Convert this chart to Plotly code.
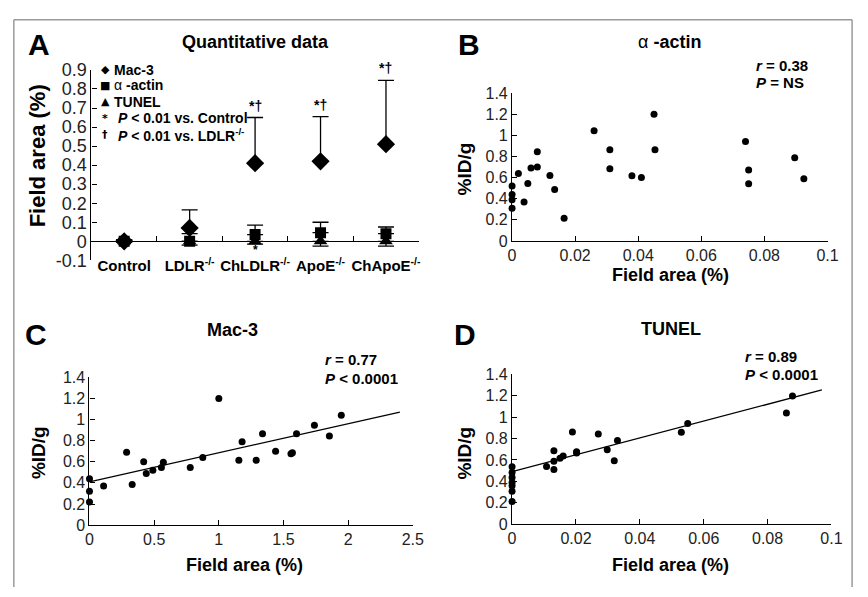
import plotly.graph_objects as go

W, H = 868, 597
FONT = "Liberation Sans, Arial, sans-serif"

# ---------------- Panel A data ----------------
categories = ["Control", "LDLR", "ChLDLR", "ApoE", "ChApoE"]
category_labels = ["<b>Control</b>", "<b>LDLR<sup>-/-</sup></b>", "<b>ChLDLR<sup>-/-</sup></b>",
                   "<b>ApoE<sup>-/-</sup></b>", "<b>ChApoE<sup>-/-</sup></b>"]
mac3_mean = [0.0, 0.07, 0.41, 0.42, 0.51]
mac3_err_up = [0.008, 0.095, 0.24, 0.235, 0.335]
actin_mean = [0.0, 0.0, 0.035, 0.045, 0.04]
actin_err_up = [0.008, 0.04, 0.05, 0.055, 0.035]
tunel_mean = [0.0, 0.0, 0.0, 0.0, 0.0]
tunel_err_down = [0.005, 0.02, 0.015, 0.025, 0.025]
sig_marks = ["", "", "*†", "*†", "*†"]
a_ticks = [-0.1, 0, 0.1, 0.2, 0.3, 0.4, 0.5, 0.6, 0.7, 0.8, 0.9]
a_ticktext = ["-0.1", "0", "0.1", "0.2", "0.3", "0.4", "0.5", "0.6", "0.7", "0.8", "0.9"]

# ---------------- Panel B: alpha-actin ----------------
actin_x = [0.0, 0.0, 0.0, 0.0, 0.002, 0.0038, 0.005, 0.006, 0.008, 0.008, 0.012, 0.0135,
           0.0165, 0.026, 0.031, 0.031, 0.038, 0.041, 0.045, 0.0453, 0.074, 0.075, 0.075,
           0.0896, 0.0925]
actin_y = [0.52, 0.44, 0.39, 0.31, 0.64, 0.37, 0.545, 0.69, 0.70, 0.846, 0.62, 0.487,
           0.216, 1.044, 0.864, 0.685, 0.618, 0.60, 1.199, 0.864, 0.943, 0.673, 0.542,
           0.788, 0.59]

# ---------------- Panel C: Mac-3 ----------------
mac_x = [0.0, 0.0, 0.0, 0.109, 0.287, 0.330, 0.419, 0.439, 0.490, 0.556, 0.571, 0.779,
         0.876, 1.0, 1.155, 1.180, 1.289, 1.338, 1.439, 1.558, 1.569, 1.601, 1.739, 1.855,
         1.947]
mac_y = [0.44, 0.32, 0.22, 0.37, 0.69, 0.385, 0.60, 0.49, 0.52, 0.545, 0.595, 0.545,
         0.64, 1.2, 0.615, 0.79, 0.615, 0.865, 0.70, 0.675, 0.685, 0.865, 0.945, 0.845,
         1.04]
mac_fit_x = [0.0, 2.4]
mac_fit_y = [0.41, 1.07]

# ---------------- Panel D: TUNEL ----------------
tunel_x = [0.0, 0.0, 0.0, 0.0, 0.0, 0.0, 0.0, 0.0108, 0.0131, 0.0131, 0.0131, 0.015,
           0.016, 0.0189, 0.0202, 0.0202, 0.027, 0.0298, 0.032, 0.033, 0.053, 0.055,
           0.0859, 0.0878]
tunel_y = [0.536, 0.482, 0.437, 0.389, 0.358, 0.307, 0.211, 0.539, 0.687, 0.587, 0.512,
           0.617, 0.636, 0.861, 0.678, 0.665, 0.843, 0.696, 0.593, 0.783, 0.858, 0.94,
           1.039, 1.199]
tunel_fit_x = [0.0, 0.097]
tunel_fit_y = [0.49, 1.255]

y_ticks = [0, 0.2, 0.4, 0.6, 0.8, 1.0, 1.2, 1.4]
y_ticktext = ["0", "0.2", "0.4", "0.6", "0.8", "1", "1.2", "1.4"]
small_x_ticks = [0, 0.02, 0.04, 0.06, 0.08, 0.1]
small_x_ticktext = ["0", "0.02", "0.04", "0.06", "0.08", "0.1"]
mac_x_ticks = [0, 0.5, 1.0, 1.5, 2.0, 2.5]
mac_x_ticktext = ["0", "0.5", "1", "1.5", "2", "2.5"]


def fx(px):
    return px / W


def fy(py):
    return 1 - py / H


fig = go.Figure()

err_style = dict(color="black", thickness=1.3, width=8)

fig.add_trace(go.Scatter(
    x=categories, y=mac3_mean, mode="markers", xaxis="x", yaxis="y",
    marker=dict(symbol="diamond", size=14, color="black"),
    error_y=dict(type="data", symmetric=False, array=mac3_err_up,
                 arrayminus=[0] * 5, **err_style),
    showlegend=False))
fig.add_trace(go.Scatter(
    x=categories, y=actin_mean, mode="markers", xaxis="x", yaxis="y",
    marker=dict(symbol="square", size=11, color="black"),
    error_y=dict(type="data", symmetric=False, array=actin_err_up,
                 arrayminus=[0] * 5, **err_style),
    showlegend=False))
fig.add_trace(go.Scatter(
    x=categories, y=tunel_mean, mode="markers", xaxis="x", yaxis="y",
    marker=dict(symbol="triangle-up", size=12, color="black"),
    error_y=dict(type="data", symmetric=False, array=[0] * 5,
                 arrayminus=tunel_err_down, **err_style),
    showlegend=False))

dot = dict(size=7, color="black")
fig.add_trace(go.Scatter(x=actin_x, y=actin_y, mode="markers", marker=dot,
                         xaxis="x2", yaxis="y2", showlegend=False, cliponaxis=False))
fig.add_trace(go.Scatter(x=mac_fit_x, y=mac_fit_y, mode="lines",
                         line=dict(color="black", width=1.3),
                         xaxis="x3", yaxis="y3", showlegend=False))
fig.add_trace(go.Scatter(x=mac_x, y=mac_y, mode="markers", marker=dot,
                         xaxis="x3", yaxis="y3", showlegend=False, cliponaxis=False))
fig.add_trace(go.Scatter(x=tunel_fit_x, y=tunel_fit_y, mode="lines",
                         line=dict(color="black", width=1.3),
                         xaxis="x4", yaxis="y4", showlegend=False))
fig.add_trace(go.Scatter(x=tunel_x, y=tunel_y, mode="markers", marker=dot,
                         xaxis="x4", yaxis="y4", showlegend=False, cliponaxis=False))

axis_common = dict(showline=True, linecolor="black", linewidth=1.2, showgrid=False,
                   zeroline=False, ticks="inside", ticklen=5, tickcolor="black",
                   tickwidth=1.2, tickangle=0)

fig.update_layout(
    xaxis=dict(domain=[fx(89), fx(422)], type="category", anchor="free",
               position=fy(239), tickson="boundaries", tickvals=categories,
               ticktext=category_labels, tickfont=dict(family=FONT, size=15, color="black"),
               ticklabelstandoff=11, range=[-0.5, 4.5], **axis_common),
    yaxis=dict(domain=[fy(259), fy(62)], range=[-0.1, 0.9], tickvals=a_ticks,
               ticktext=a_ticktext, tickfont=dict(family=FONT, size=18, color="#222"),
               anchor="x", **axis_common),
    xaxis2=dict(domain=[fx(517), fx(838)], range=[0, 0.1], tickvals=small_x_ticks,
                ticktext=small_x_ticktext, anchor="y2",
                tickfont=dict(family=FONT, size=16, color="#222"), **axis_common),
    yaxis2=dict(domain=[fy(239), fy(86)], range=[0, 1.4], tickvals=y_ticks,
                ticktext=y_ticktext, anchor="x2",
                tickfont=dict(family=FONT, size=16, color="#222"), **axis_common),
    xaxis3=dict(domain=[fx(87), fx(416)], range=[0, 2.5], tickvals=mac_x_ticks,
                ticktext=mac_x_ticktext, anchor="y3",
                tickfont=dict(family=FONT, size=16, color="#222"), **axis_common),
    yaxis3=dict(domain=[fy(533), fy(380)], range=[0, 1.4], tickvals=y_ticks,
                ticktext=y_ticktext, anchor="x3",
                tickfont=dict(family=FONT, size=16, color="#222"), **axis_common),
    xaxis4=dict(domain=[fx(517), fx(842)], range=[0, 0.1], tickvals=small_x_ticks,
                ticktext=small_x_ticktext, anchor="y4",
                tickfont=dict(family=FONT, size=16, color="#222"), **axis_common),
    yaxis4=dict(domain=[fy(532), fy(377)], range=[0, 1.4], tickvals=y_ticks,
                ticktext=y_ticktext, anchor="x4",
                tickfont=dict(family=FONT, size=16, color="#222"), **axis_common),
)

ann = []


def paper_text(text, px, py, size, xanchor="center", yanchor="middle", angle=0,
               color="black", family=FONT):
    ann.append(dict(text=text, x=fx(px), y=fy(py), xref="paper", yref="paper",
                    xanchor=xanchor, yanchor=yanchor, showarrow=False, textangle=angle,
                    font=dict(family=family, size=size, color=color)))


# panel letters
paper_text("<b>A</b>", 36, 36, 30)
paper_text("<b>B</b>", 473, 36, 30)
paper_text("<b>C</b>", 33, 336, 30)
paper_text("<b>D</b>", 469, 336, 30)

# titles
paper_text("<b>Quantitative data</b>", 256, 33, 18)
paper_text("α <b>-actin</b>", 677, 33, 18)
paper_text("<b>Mac-3</b>", 233, 331, 18)
paper_text("<b>TUNEL</b>", 679, 330, 18)

# axis titles
paper_text("<b>Field area (%)</b>", 35, 151, 22, angle=-90)
paper_text("<b>%ID/g</b>", 469, 164, 19, angle=-90)
paper_text("<b>Field area (%)</b>", 678, 274, 18)
paper_text("<b>%ID/g</b>", 35, 458, 19, angle=-90)
paper_text("<b>Field area (%)</b>", 245, 574, 18)
paper_text("<b>%ID/g</b>", 469, 458, 19, angle=-90)
paper_text("<b>Field area (%)</b>", 678, 574, 18)

# statistics
paper_text("<b><i>r</i> = 0.38</b>", 763, 57, 15, xanchor="left")
paper_text("<b><i>P</i> = NS</b>", 763, 75, 15, xanchor="left")
paper_text("<b><i>r</i> = 0.77</b>", 325, 362, 15, xanchor="left")
paper_text("<b><i>P</i> &lt; 0.0001</b>", 325, 381, 15, xanchor="left")
paper_text("<b><i>r</i> = 0.89</b>", 752, 358, 15, xanchor="left")
paper_text("<b><i>P</i> &lt; 0.0001</b>", 752, 377, 15, xanchor="left")

# legend of panel A
legend_rows = [("◆", "<b>Mac-3</b>", 62, 110),
               ("■", "α <b>-actin</b>", 78, 110),
               ("▲", "<b>TUNEL</b>", 95, 110),
               ("*", "<b><i>P</i> &lt; 0.01 vs. Control</b>", 112, 114),
               ("†", "<b><i>P</i> &lt; 0.01 vs. LDLR<sup>-/-</sup></b>", 129, 114)]
for glyph, label, py, tx in legend_rows:
    paper_text("<b>" + glyph + "</b>", 103, py, 11, family="DejaVu Sans")
    paper_text(label, tx, py, 14, xanchor="left")

# significance marks above Mac-3 error caps
for c, m, e, s in zip(categories, mac3_mean, mac3_err_up, sig_marks):
    if s:
        ann.append(dict(text="<b>" + s + "</b>", x=c, y=m + e, xref="x", yref="y",
                        yanchor="bottom", yshift=2, showarrow=False,
                        font=dict(family=FONT, size=14, color="black")))
ann.append(dict(text="<b>*</b>", x="ChLDLR", y=-0.045, xref="x", yref="y",
                showarrow=False, font=dict(family=FONT, size=12, color="black")))

shapes = []
frame = dict(type="line", xref="paper", yref="paper",
             line=dict(color="#9a9a9a", width=1.5))
shapes.append(dict(frame, x0=fx(10), x1=fx(863), y0=fy(10), y1=fy(10)))
shapes.append(dict(frame, x0=fx(10), x1=fx(10), y0=fy(10), y1=0))
shapes.append(dict(frame, x0=fx(863), x1=fx(863), y0=fy(10), y1=0))

fig.update_layout(width=W, height=H, margin=dict(l=0, r=0, t=0, b=0),
                  paper_bgcolor="white", plot_bgcolor="white",
                  annotations=ann, shapes=shapes,
                  font=dict(family=FONT, color="black"))

fig.write_html("out.html", config={"displayModeBar": False},
               post_script="document.body.style.margin='0px';"
                           "document.body.style.overflow='hidden';")
